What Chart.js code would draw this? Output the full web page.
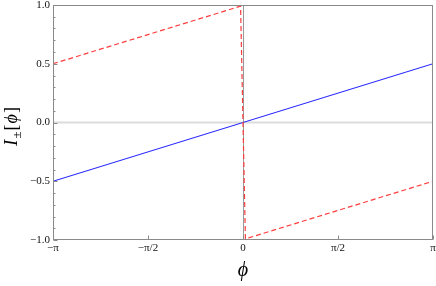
<!DOCTYPE html>
<html>
<head>
<meta charset="utf-8">
<script src="https://cdn.jsdelivr.net/npm/chart.js@4.4.0/dist/chart.umd.min.js"></script>
<style>
  html, body { margin: 0; padding: 0; background: #fff; }
  #wrap { width: 436px; height: 286px; }
</style>
</head>
<body>
<div id="wrap"><canvas id="phiChart" width="436" height="286"></canvas></div>
<script>
// data
const phiBlue = [-Math.PI, Math.PI];
const iPlus = [-0.5, 0.5];
const phiRed = [-Math.PI, -0.04, 0.04, Math.PI];
const iMinus = [0.5, 0.99, -0.99, -0.5];

// tick labels
const xTickValues = [-Math.PI, -Math.PI / 2, 0, Math.PI / 2, Math.PI];
const xTickLabels = ["\u2212\u03c0", "\u2212\u03c0/2", "0", "\u03c0/2", "\u03c0"];
const yTickValues = [-1, -0.5, 0, 0.5, 1];
const yTickLabels = ["\u22121.0", "\u22120.5", "0.0", "0.5", "1.0"];
const yMinorTicks = [-0.9, -0.8, -0.7, -0.6, -0.4, -0.3, -0.2, -0.1, 0.1, 0.2, 0.3, 0.4, 0.6, 0.7, 0.8, 0.9];

const FRAME = "#8a8a8a";
const SERIF = '"Liberation Serif", "DejaVu Serif", serif';

function toPoints(xs, ys) {
    return xs.map((x, i) => ({ x, y: ys[i] }));
}

// -----------------------------
// FRAME, ZERO LINES, INNER TICKS, AXIS TITLES
// -----------------------------
const framePlugin = {
    id: "frame",
    beforeDatasetsDraw(chart) {
        const { ctx, chartArea: a, scales: { x, y } } = chart;
        ctx.save();
        // horizontal zero line
        ctx.strokeStyle = "#dcdcdc";
        ctx.lineWidth = 2;
        const y0 = y.getPixelForValue(0);
        ctx.beginPath();
        ctx.moveTo(a.left, y0);
        ctx.lineTo(a.right, y0);
        ctx.stroke();
        // vertical zero line
        ctx.strokeStyle = "#999";
        ctx.lineWidth = 1;
        const x0 = Math.round(x.getPixelForValue(0)) + 0.5;
        ctx.beginPath();
        ctx.moveTo(x0, a.top);
        ctx.lineTo(x0, a.bottom);
        ctx.stroke();
        ctx.restore();
    },
    afterDatasetsDraw(chart) {
        const { ctx, chartArea: a, scales: { x, y } } = chart;
        ctx.save();
        ctx.strokeStyle = FRAME;
        ctx.lineWidth = 1;
        const L = Math.round(a.left) + 0.5, R = Math.round(a.right) - 0.5;
        const T = Math.round(a.top) + 0.5, B = Math.round(a.bottom) - 0.5;
        ctx.strokeRect(L, T, R - L, B - T);

        ctx.beginPath();
        yTickValues.forEach(v => {
            const py = Math.round(y.getPixelForValue(v)) + 0.5;
            ctx.moveTo(L, py); ctx.lineTo(L + 4, py);
        });
        yMinorTicks.forEach(v => {
            const py = Math.round(y.getPixelForValue(v)) + 0.5;
            ctx.moveTo(L, py); ctx.lineTo(L + 2, py);
        });
        xTickValues.forEach(v => {
            const px = Math.round(x.getPixelForValue(v)) + 0.5;
            ctx.moveTo(px, B); ctx.lineTo(px, B - 4);
        });
        ctx.stroke();

        // axis titles
        ctx.fillStyle = "#000";
        ctx.textBaseline = "alphabetic";
        ctx.font = "italic 20px " + SERIF;
        ctx.textAlign = "center";
        ctx.fillText("\u03d5", (a.left + a.right) / 2, 276);

        ctx.translate(17, 126);
        ctx.rotate(-Math.PI / 2);
        ctx.textAlign = "left";
        const parts = [
            { t: "I", f: "italic 19px " + SERIF, dy: 0 },
            { t: "\u00b1", f: "13px " + SERIF, dy: 4 },
            { t: "[", f: "18px " + SERIF, dy: 0 },
            { t: "\u03d5", f: "italic 18px " + SERIF, dy: 0 },
            { t: "]", f: "18px " + SERIF, dy: 0 }
        ];
        let w = 0;
        parts.forEach(p => { ctx.font = p.f; w += ctx.measureText(p.t).width + 1; });
        let cx = -w / 2;
        parts.forEach(p => {
            ctx.font = p.f;
            ctx.fillText(p.t, cx, p.dy);
            cx += ctx.measureText(p.t).width + 1;
        });
        ctx.restore();
    }
};

new Chart(document.getElementById("phiChart"), {
    type: "scatter",
    data: {
        datasets: [{
            label: "I-",
            data: toPoints(phiRed, iMinus),
            showLine: true,
            borderColor: "rgb(255, 60, 60)",
            borderWidth: 1.2,
            borderDash: [5, 3],
            pointRadius: 0,
            tension: 0
        }, {
            label: "I+",
            data: toPoints(phiBlue, iPlus),
            showLine: true,
            borderColor: "rgb(40, 40, 255)",
            borderWidth: 1.1,
            pointRadius: 0,
            tension: 0
        }]
    },
    options: {
        responsive: false,
        animation: false,
        events: [],
        layout: { padding: { top: 5, right: 3, left: 0, bottom: 0 } },
        plugins: {
            legend: { display: false },
            tooltip: { enabled: false }
        },
        scales: {
            x: {
                type: "linear",
                min: -Math.PI,
                max: Math.PI,
                grid: { display: false, drawTicks: false },
                border: { display: false },
                afterBuildTicks: s => { s.ticks = xTickValues.map(v => ({ value: v })); },
                afterFit: s => { s.height = 46; s.paddingLeft = 0; s.paddingRight = 0; },
                ticks: {
                    autoSkip: false,
                    maxRotation: 0,
                    padding: 3,
                    color: "#111",
                    font: { family: SERIF, size: 11, lineHeight: 1 },
                    callback: (v, i) => xTickLabels[i]
                }
            },
            y: {
                min: -1,
                max: 1,
                grid: { display: false, drawTicks: false },
                border: { display: false },
                afterBuildTicks: s => { s.ticks = yTickValues.map(v => ({ value: v })); },
                afterFit: s => { s.width = 53; s.paddingTop = 0; s.paddingBottom = 0; },
                ticks: {
                    autoSkip: false,
                    padding: 3,
                    color: "#111",
                    font: { family: SERIF, size: 11, lineHeight: 1 },
                    callback: (v, i) => yTickLabels[i]
                }
            }
        }
    },
    plugins: [framePlugin]
});
</script>
</body>
</html>
